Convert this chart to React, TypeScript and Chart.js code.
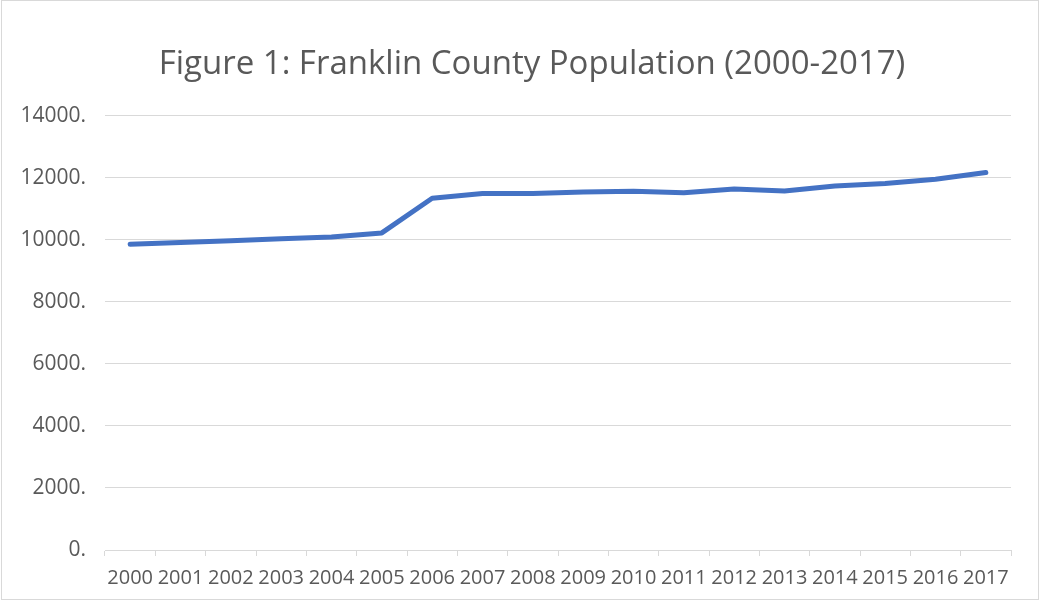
import React, { useEffect, useRef } from "react";
import { Chart, registerables } from "chart.js";

Chart.register(...registerables);

const years: string[] = [
  "2000", "2001", "2002", "2003", "2004", "2005", "2006", "2007", "2008",
  "2009", "2010", "2011", "2012", "2013", "2014", "2015", "2016", "2017",
];
const population: number[] = [
  9850, 9910, 9970, 10030, 10090, 10220, 11336, 11490, 11490,
  11540, 11560, 11515, 11635, 11570, 11733, 11808, 11950, 12163,
];
const yTicks: number[] = [0, 2000, 4000, 6000, 8000, 10000, 12000, 14000];
const titleText = "Figure 1: Franklin County Population (2000-2017)";

const widenYLabelArea = {
  id: "widenYLabelArea",
  afterLayout(chart: any) {
    const y = chart.scales.y;
    if (y) {
      y.left = 0;
      y.width = y.right;
    }
  },
};

export default function App() {
  const ref = useRef<HTMLCanvasElement | null>(null);

  useEffect(() => {
    if (!ref.current) return;
    const chart = new Chart(ref.current, {
      type: "line",
      data: {
        labels: years,
        datasets: [
          {
            data: population,
            borderColor: "#4472C4",
            backgroundColor: "#4472C4",
            borderWidth: 5,
            borderCapStyle: "round",
            borderJoinStyle: "round",
            pointRadius: 0,
            tension: 0,
            fill: false,
          },
        ],
      },
      plugins: [widenYLabelArea],
      options: {
        responsive: false,
        animation: false,
        layout: { padding: { left: 53, right: 29, top: 0, bottom: 0 } },
        plugins: {
          legend: { display: false },
          tooltip: { enabled: false },
          title: {
            display: true,
            text: titleText,
            color: "#595959",
            font: { family: "'Open Sans'", size: 33, weight: "normal" },
            padding: { top: 45, bottom: 31 },
          },
        },
        scales: {
          x: {
            type: "category",
            offset: true,
            grid: {
              offset: true,
              drawOnChartArea: false,
              drawTicks: true,
              tickLength: 6,
              color: "#d9d9d9",
            },
            border: { display: true, color: "#d9d9d9", width: 1 },
            ticks: {
              autoSkip: false,
              maxRotation: 0,
              minRotation: 0,
              padding: 10,
              color: "#595959",
              font: { family: "'Open Sans'", size: 20 },
            },
            afterFit: (scale: any) => {
              scale.height = 50;
            },
          },
          y: {
            min: 0,
            max: 14000,
            afterBuildTicks: (scale: any) => {
              scale.ticks = yTicks.map((v) => ({ value: v }));
            },
            grid: { color: "#d9d9d9", drawTicks: false, lineWidth: 1 },
            border: { display: false },
            ticks: {
              padding: 19,
              color: "#595959",
              font: { family: "'Open Sans'", size: 21 },
              callback: (v: any) => `${v}.`,
            },
            afterFit: (scale: any) => {
              scale.width = 52;
            },
          },
        },
      },
    });
    return () => chart.destroy();
  }, []);

  return (
    <div
      style={{
        position: "fixed",
        left: 0,
        top: 0,
        width: 1040,
        height: 600,
        background: "#ffffff",
      }}
    >
      <canvas ref={ref} width={1040} height={600} style={{ display: "block" }} />
      <div
        style={{
          position: "absolute",
          left: 1,
          top: 0,
          width: 1038,
          height: 600,
          boxSizing: "border-box",
          border: "1px solid #d9d9d9",
          pointerEvents: "none",
        }}
      />
    </div>
  );
}
